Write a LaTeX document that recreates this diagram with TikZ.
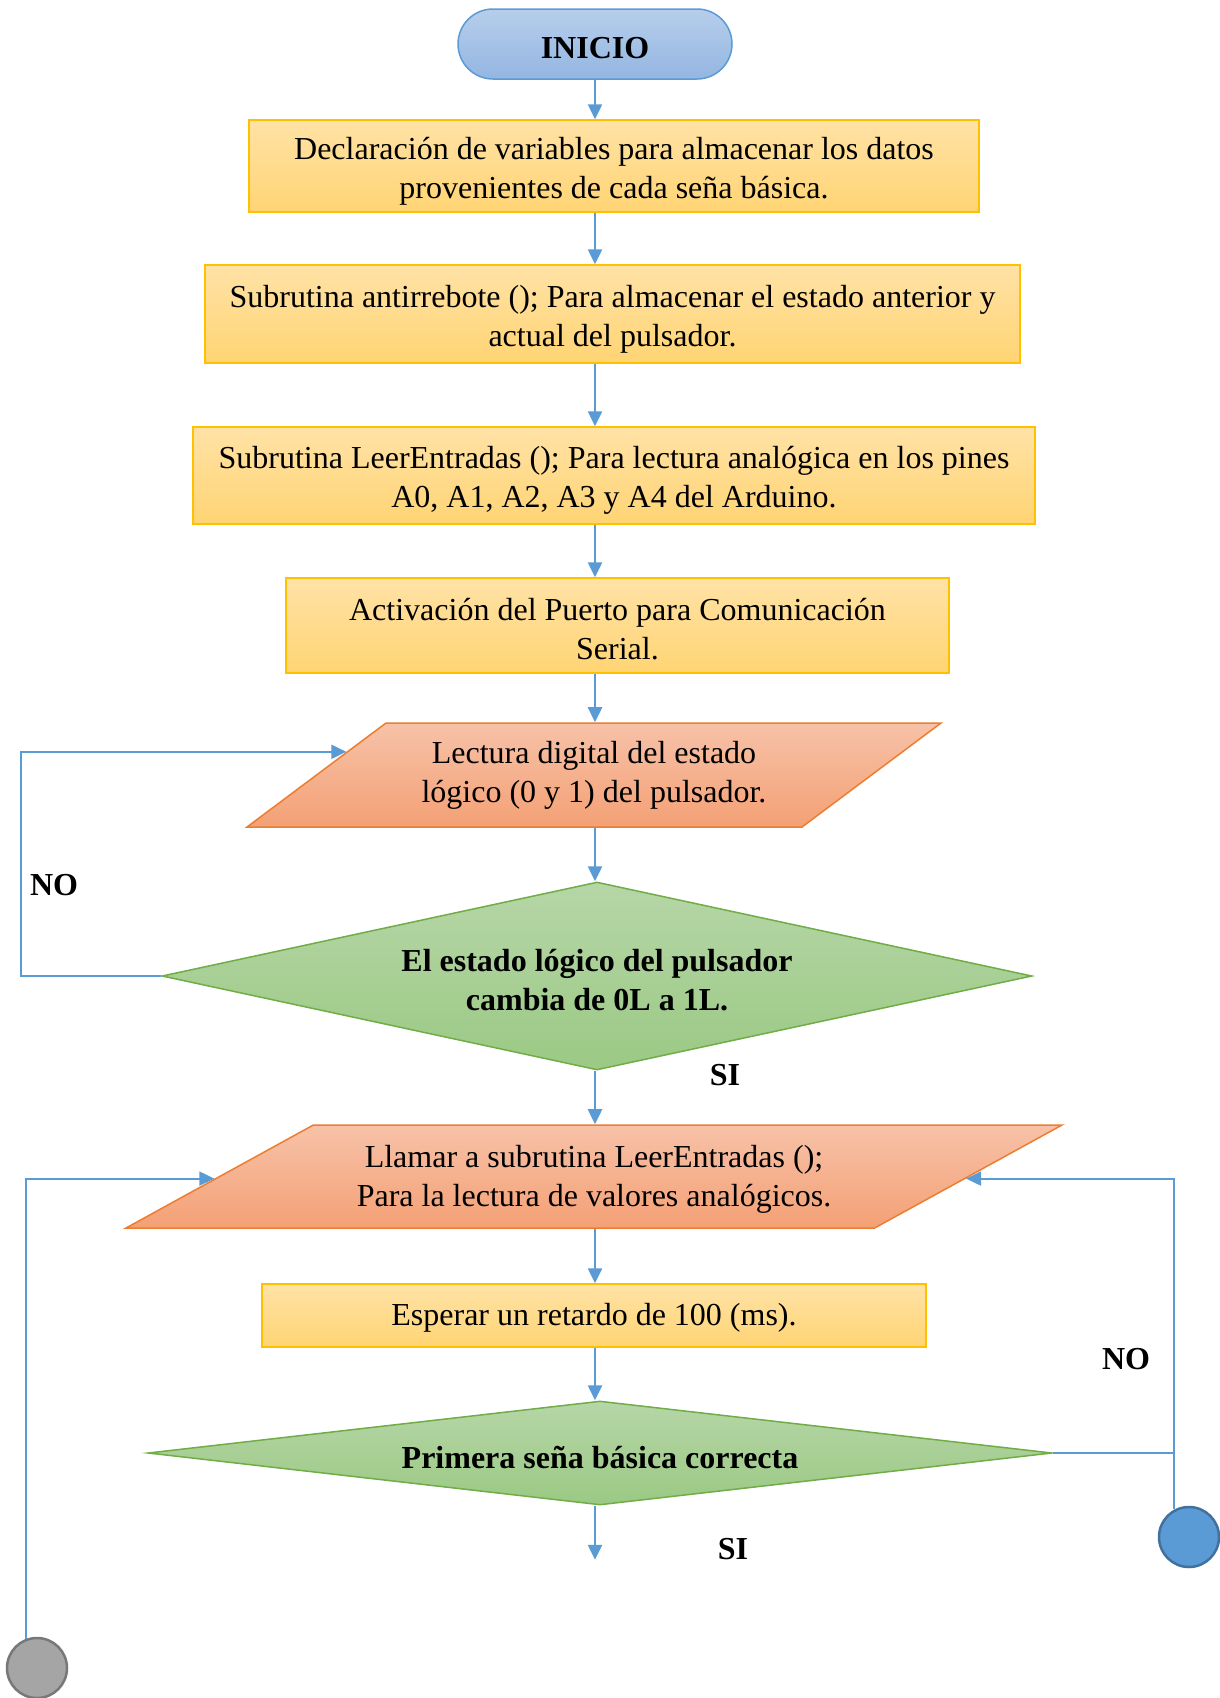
\documentclass[tikz,border=0pt]{standalone}
\usepackage{fontspec}
\setmainfont{Liberation Serif}
\usetikzlibrary{shapes.geometric, arrows.meta, calc, positioning}

\definecolor{azulBorde}{HTML}{5B9BD5}
\definecolor{azulOscuro}{HTML}{41719C}
\definecolor{inicioArriba}{HTML}{B7CEEB}
\definecolor{inicioAbajo}{HTML}{93B6E2}
\definecolor{cajaBorde}{HTML}{FFC000}
\definecolor{cajaArriba}{HTML}{FFE2A6}
\definecolor{cajaAbajo}{HTML}{FFD473}
\definecolor{datosBorde}{HTML}{ED7D31}
\definecolor{datosArriba}{HTML}{F7C2A8}
\definecolor{datosAbajo}{HTML}{F4A075}
\definecolor{decBorde}{HTML}{70AD47}
\definecolor{decArriba}{HTML}{B6D6A7}
\definecolor{decAbajo}{HTML}{9BC984}
\definecolor{gris}{HTML}{A5A5A5}
\definecolor{grisOscuro}{HTML}{787878}

\begin{document}
\begin{tikzpicture}[x=1pt, y=-1pt,
    every node/.style={font=\fontsize{32}{39}\selectfont, align=center, inner sep=0pt},
    inicio/.style={draw=azulBorde, line width=1.5pt, top color=inicioArriba, bottom color=inicioAbajo,
        rounded corners=35pt, minimum width=274pt, minimum height=70pt, font=\fontsize{32}{39}\selectfont\bfseries},
    caja/.style={draw=cajaBorde, line width=1.5pt, top color=cajaArriba, bottom color=cajaAbajo},
    datos/.style={trapezium, trapezium stretches body=true, draw=datosBorde, line width=1.5pt,
        top color=datosArriba, bottom color=datosAbajo},
    decision/.style={diamond, draw=decBorde, line width=1.5pt, top color=decArriba, bottom color=decAbajo,
        font=\fontsize{32}{39}\selectfont\bfseries},
    texto/.style 2 args={text height=#1pt, text depth=#2pt},
    conector/.style={circle, line width=2.5pt, minimum size=60pt},
    flecha/.style={-{Triangle[length=15pt,width=14pt]}, draw=azulBorde, line width=2.5pt},
    lazo/.style={-{Triangle[length=15pt,width=14pt]}, draw=azulBorde, line width=2pt},
    linea/.style={draw=azulBorde, line width=2pt},
    etiqueta/.style={font=\fontsize{32}{39}\selectfont\bfseries}
]

    % Rahmen der Seite
    \useasboundingbox (0,0) rectangle (1220,1698);

    % 1. Bloques del diagrama
    \node[inicio, texto={29.6}{0}] (inicio) at (595,44) {INICIO};
    \node[caja, texto={72.2}{7}, minimum width=730pt, minimum height=92pt] (declara) at (614,166)
        {Declaración de variables para almacenar los datos\\ provenientes de cada seña básica.};
    \node[caja, texto={71.2}{7}, minimum width=815pt, minimum height=98pt] (antirrebote) at (612.5,314)
        {Subrutina antirrebote (); Para almacenar el estado anterior y\\ actual del pulsador.};
    \node[caja, texto={71.2}{7}, minimum width=842pt, minimum height=97pt] (leer) at (614,475.5)
        {Subrutina LeerEntradas (); Para lectura analógica en los pines\\ A0, A1, A2, A3 y A4 del Arduino.};
    \node[caja, texto={74.8}{7}, minimum width=663pt, minimum height=95pt] (serial) at (617.5,625.5)
        {Activación del Puerto para Comunicación\\ Serial.};
    \node[datos, texto={61.4}{7}, trapezium left angle=26.2, trapezium right angle=153.8,
        minimum width=694pt, minimum height=104pt] (lectura) at (594,775)
        {Lectura digital del estado\\ lógico (0 y 1) del pulsador.};
    \node[decision, texto={69}{0}, aspect=4.63, minimum width=870pt, minimum height=188pt] (cambia) at (597,976)
        {El estado lógico del pulsador\\ cambia de 0L a 1L.};
    \node[datos, texto={66.8}{7}, trapezium left angle=21.5, trapezium right angle=158.5,
        minimum width=936pt, minimum height=103pt] (llamar) at (594,1176.5)
        {Llamar a subrutina LeerEntradas ();\\ Para la lectura de valores analógicos.};
    \node[caja, texto={27.6}{7}, minimum width=664pt, minimum height=63pt] (esperar) at (594,1315.5)
        {Esperar un retardo de 100 (ms).};
    \node[decision, texto={31}{0}, aspect=8.7, minimum width=904pt, minimum height=104pt] (primera) at (600,1453)
        {Primera seña básica correcta};
    \coordinate (fin) at ($(primera.south -| inicio)+(0,54)$);

    % Conectores
    \node[conector, fill=azulBorde, draw=azulOscuro] (conA) at (1189,1537) {};
    \node[conector, fill=gris, draw=grisOscuro] (conB) at (37,1668) {};

    % 2. Flechas principales
    \draw[flecha] (inicio.south) -- (inicio.south |- declara.north);
    \draw[flecha] (declara.south -| inicio) -- (antirrebote.north -| inicio);
    \draw[flecha] (antirrebote.south -| inicio) -- (leer.north -| inicio);
    \draw[flecha] (leer.south -| inicio) -- (serial.north -| inicio);
    \draw[flecha] (serial.south -| inicio) -- (lectura.north -| inicio);
    \draw[flecha] (lectura.south -| inicio) -- (cambia.north -| inicio);
    \draw[flecha] (cambia.south -| inicio) -- (llamar.north -| inicio);
    \draw[flecha] (llamar.south -| inicio) -- (esperar.north -| inicio);
    \draw[flecha] (esperar.south -| inicio) -- (primera.north -| inicio);
    \draw[flecha] (primera.south -| inicio) -- (fin);

    % 3. Lazos de retorno
    \coordinate (entra1) at ($(lectura.top left corner)!0.28!(lectura.bottom left corner)$);
    \coordinate (entra2) at ($(llamar.top right corner)!0.52!(llamar.bottom right corner)$);
    \coordinate (entra3) at ($(llamar.top left corner)!0.52!(llamar.bottom left corner)$);
    \draw[lazo] (cambia.west) -- ++(-140,0) |- (entra1);
    \draw[linea] (primera.east) -- (conA.118 |- primera.east);
    \draw[lazo] (conA.118) |- (entra2);
    \draw[lazo] (conB.111) |- (entra3);

    % 4. Etiquetas
    \node[etiqueta] (no1) at (54,885) {NO};
    \node[etiqueta] (si1) at (725,1075) {SI};
    \node[etiqueta] (no2) at (1126,1359) {NO};
    \node[etiqueta] (si2) at (733,1549) {SI};

\end{tikzpicture}
\end{document}
